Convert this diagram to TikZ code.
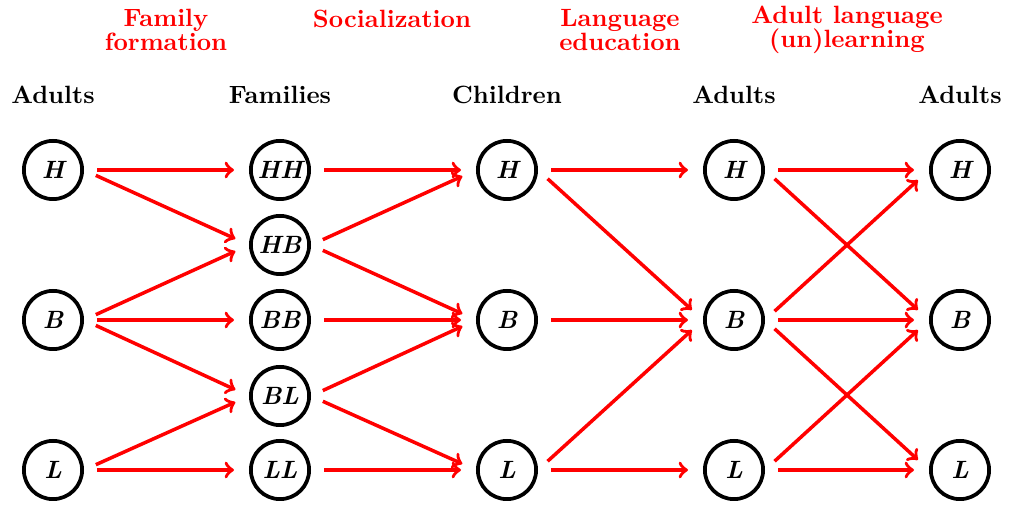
\documentclass[tikz,border=0pt]{standalone}

\begin{document}
\begin{tikzpicture}[x=0.4pt,y=0.4pt,yscale=-1,xscale=1,
  pop/.style={circle,draw,line width=1.5pt,minimum size=23.3pt,inner sep=0pt,font=\bfseries\itshape},
  flow/.style={->,red,line width=1.4pt,shorten <=5.2pt,shorten >=6pt},
  head/.style={font=\bfseries},
  stage/.style={font=\bfseries,text=red,align=center}]
\useasboundingbox (0,0) rectangle (1009,505);

% Stage labels
\node[stage] (sFam) at (166,30) {Family\\[-2.5pt]formation};
\node[stage] (sSoc) at (392,19) {Socialization};
\node[stage] (sEdu) at (620,30) {Language\\[-2.5pt]education};
\node[stage] (sLrn) at (847,30) {Adult language\\[-2.5pt](un)learning};

% Column heads
\node[head] (hA1) at (53,95) {Adults};
\node[head] (hF) at (280,95) {Families};
\node[head] (hC) at (507,95) {Children};
\node[head] (hA2) at (734,95) {Adults};
\node[head] (hA3) at (960,95) {Adults};

% Adults
\node[pop] (a1H) at (53,170) {H};
\node[pop] (a1B) at (53,320) {B};
\node[pop] (a1L) at (53,470) {L};
% Families
\node[pop] (fHH) at (280,170) {HH};
\node[pop] (fHB) at (280,245) {HB};
\node[pop] (fBB) at (280,320) {BB};
\node[pop] (fBL) at (280,396) {BL};
\node[pop] (fLL) at (280,470) {LL};
% Children
\node[pop] (cH) at (507,170) {H};
\node[pop] (cB) at (507,320) {B};
\node[pop] (cL) at (507,470) {L};
% Adults again
\node[pop] (a2H) at (734,170) {H};
\node[pop] (a2B) at (734,320) {B};
\node[pop] (a2L) at (734,470) {L};
\node[pop] (a3H) at (960,170) {H};
\node[pop] (a3B) at (960,320) {B};
\node[pop] (a3L) at (960,470) {L};

% Family formation
\draw[flow] (a1H.east) -- (fHH.west);
\draw[flow] (a1H.east) -- (fHB.west);
\draw[flow] (a1B.east) -- (fHB.west);
\draw[flow] (a1B.east) -- (fBB.west);
\draw[flow] (a1B.east) -- (fBL.west);
\draw[flow] (a1L.east) -- (fBL.west);
\draw[flow] (a1L.east) -- (fLL.west);
% Socialization
\draw[flow] (fHH.east) -- (cH.west);
\draw[flow] (fHB.east) -- (cH.west);
\draw[flow] (fHB.east) -- (cB.west);
\draw[flow] (fBB.east) -- (cB.west);
\draw[flow] (fBL.east) -- (cB.west);
\draw[flow] (fBL.east) -- (cL.west);
\draw[flow] (fLL.east) -- (cL.west);
% Language education
\draw[flow] (cH.east) -- (a2H.west);
\draw[flow] (cH.east) -- (a2B.west);
\draw[flow] (cB.east) -- (a2B.west);
\draw[flow] (cL.east) -- (a2B.west);
\draw[flow] (cL.east) -- (a2L.west);
% Adult language (un)learning
\draw[flow] (a2H.east) -- (a3H.west);
\draw[flow] (a2H.east) -- (a3B.west);
\draw[flow] (a2B.east) -- (a3H.west);
\draw[flow] (a2B.east) -- (a3B.west);
\draw[flow] (a2B.east) -- (a3L.west);
\draw[flow] (a2L.east) -- (a3B.west);
\draw[flow] (a2L.east) -- (a3L.west);

\end{tikzpicture}
\end{document}
